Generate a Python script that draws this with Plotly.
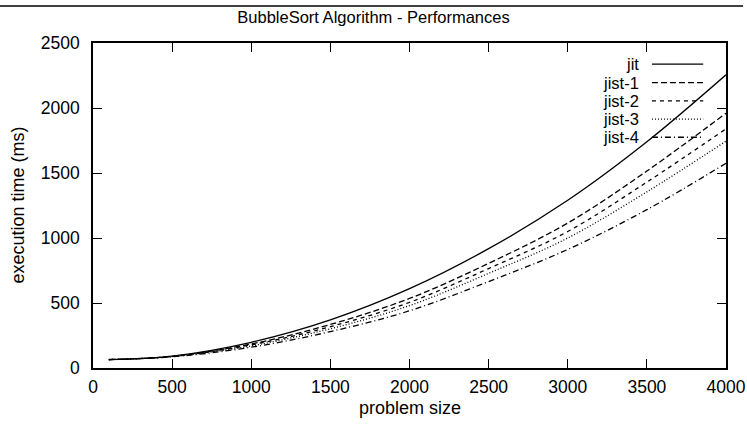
import plotly.graph_objects as go

# ---- data ----
problem_size = [100, 500, 1000, 1500, 2000, 2500, 3000, 3500, 4000]
jit    = [65, 92, 198, 370, 610, 918, 1290, 1740, 2255]
jist_1 = [65, 90, 185, 335, 535, 805, 1115, 1515, 1960]
jist_2 = [65, 89, 178, 318, 505, 765, 1050, 1430, 1840]
jist_3 = [65, 88, 170, 302, 480, 728, 1000, 1355, 1745]
jist_4 = [65, 86, 160, 280, 440, 665, 912, 1218, 1575]

series_names = ["jit", "jist-1", "jist-2", "jist-3", "jist-4"]
series_values = [jit, jist_1, jist_2, jist_3, jist_4]
dashes = ["solid", "6px,3px", "4px,4px", "1px,2px", "6px,3px,1px,3px"]

x_ticks = [0, 500, 1000, 1500, 2000, 2500, 3000, 3500, 4000]
y_ticks = [0, 500, 1000, 1500, 2000, 2500]

FONT = "Liberation Sans, Arial, sans-serif"
FS = 17.5

fig = go.Figure()
for name, vals, dash in zip(series_names, series_values, dashes):
    fig.add_trace(go.Scatter(
        x=problem_size, y=vals, mode="lines", name=name,
        line=dict(color="black", width=1.3, dash=dash, shape="spline", smoothing=1.0),
        showlegend=False, hoverinfo="skip"))

# manual gnuplot-style legend (text right-aligned, sample on the right)
leg_y = [0.935, 0.878, 0.822, 0.766, 0.710]
for name, dash, yy in zip(series_names, dashes, leg_y):
    fig.add_annotation(x=0.866, y=yy, xref="paper", yref="paper", text=name,
                       showarrow=False, xanchor="right", yanchor="middle",
                       font=dict(family=FONT, size=16.5, color="black"))
    fig.add_shape(type="line", xref="paper", yref="paper",
                  x0=0.883, x1=0.964, y0=yy, y1=yy,
                  line=dict(color="black", width=1.3, dash=dash))

# axis titles
fig.add_annotation(x=0.5, y=-0.123, xref="paper", yref="paper", text="problem size",
                   showarrow=False, xanchor="center", yanchor="middle",
                   font=dict(family=FONT, size=18, color="black"))
fig.add_annotation(x=-0.120, y=0.5, xref="paper", yref="paper", text="execution time (ms)",
                   showarrow=False, xanchor="center", yanchor="middle", textangle=-90,
                   font=dict(family=FONT, size=18, color="black"))

# top border line of the page
fig.add_shape(type="line", xref="paper", yref="paper",
              x0=-0.147, x1=1.027, y0=1.114, y1=1.114,
              line=dict(color="black", width=1.5), layer="above")

axis_common = dict(
    showgrid=False, zeroline=False, showline=True, linecolor="black", linewidth=1.5,
    mirror="allticks", ticks="inside", ticklen=9, tickwidth=1.2, tickcolor="black",
    tickfont=dict(family=FONT, size=FS, color="black"), automargin=False,
)

fig.update_layout(
    width=747, height=424,
    margin=dict(l=93, r=21, t=43, b=56, autoexpand=False),
    paper_bgcolor="white", plot_bgcolor="white",
    font=dict(family=FONT, size=FS, color="black"),
    title=dict(text="BubbleSort Algorithm - Performances", x=0.5, xref="container",
               xanchor="center", y=1 - 17 / 424, yref="container", yanchor="middle",
               font=dict(family=FONT, size=16.5, color="black")),
    xaxis=dict(range=[0, 4000], tickvals=x_ticks, ticktext=[str(v) for v in x_ticks],
               ticklabelstandoff=2, **axis_common),
    yaxis=dict(range=[0, 2500], tickvals=y_ticks, ticktext=[str(v) for v in y_ticks],
               ticklabelstandoff=8, **axis_common),
)

fig.write_html(
    "out.html",
    config={"displayModeBar": False},
    post_script="document.body.style.margin='0';document.body.style.padding='0';",
)
